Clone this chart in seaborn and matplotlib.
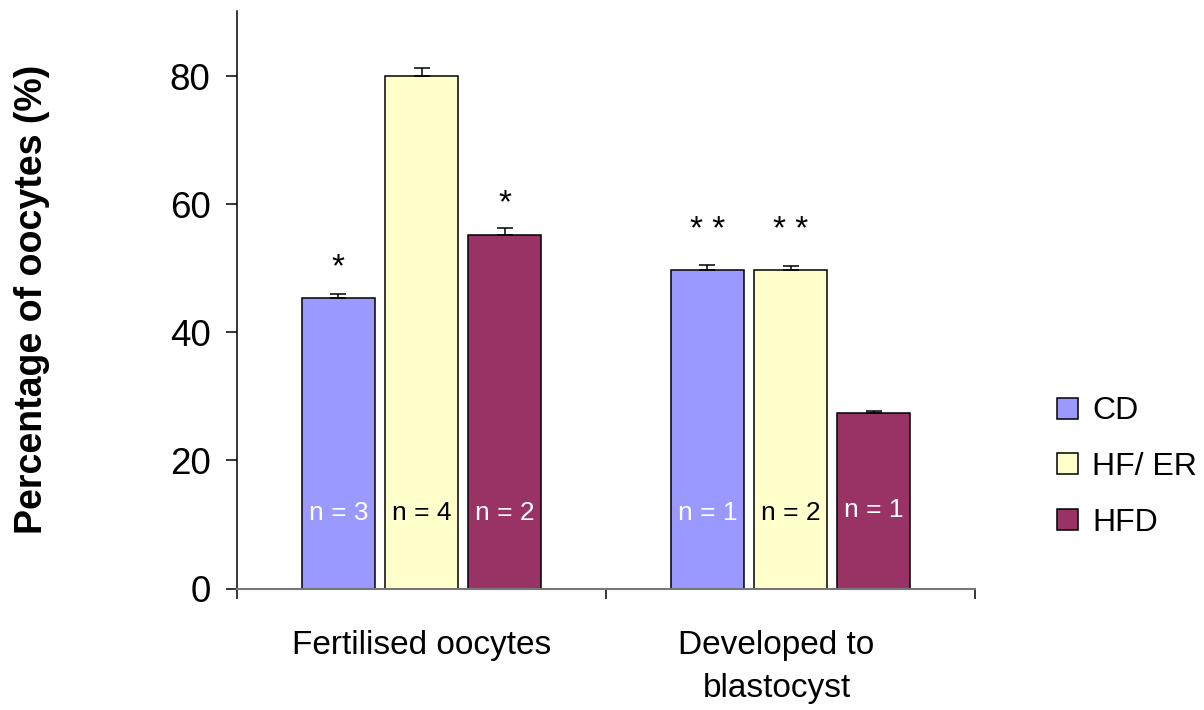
import matplotlib
matplotlib.use("Agg")
import matplotlib.pyplot as plt
import matplotlib.transforms as mtransforms
from matplotlib.ticker import FixedLocator
from matplotlib.container import BarContainer
import seaborn as sns
import pandas as pd

# ---- data ----
categories = ["Fertilised oocytes", "Developed to\nblastocyst"]
diets = ["CD", "HF/ ER", "HFD"]
cd_values = [45.3, 49.8]
hfer_values = [80.0, 49.8]
hfd_values = [55.2, 27.4]
cd_err = [0.75, 0.8]
hfer_err = [1.3, 0.55]
hfd_err = [1.05, 0.25]
cd_n = ["n = 3", "n = 1"]
hfer_n = ["n = 4", "n = 2"]
hfd_n = ["n = 2", "n = 1"]
cd_sig = ["*", "* *"]
hfer_sig = ["", "* *"]
hfd_sig = ["*", ""]
cd_sig_y = [48.7, 54.6]
hfer_sig_y = [None, 54.6]
hfd_sig_y = [58.8, None]
yticks = [0, 20, 40, 60, 80]
ylabel = "Percentage of oocytes (%)"

colors = ["#9999FF", "#FFFFCC", "#993366"]
n_text_colors = ["white", "black", "white"]

values = [cd_values, hfer_values, hfd_values]
errs = [cd_err, hfer_err, hfd_err]
ns = [cd_n, hfer_n, hfd_n]
sigs = [cd_sig, hfer_sig, hfd_sig]
sig_ys = [cd_sig_y, hfer_sig_y, hfd_sig_y]

rows = []
for d, vals in zip(diets, values):
    for c, v in zip(categories, vals):
        rows.append({"category": c, "diet": d, "value": v})
df = pd.DataFrame(rows)

sns.set_style("white")
plt.rcParams["font.family"] = ["Liberation Sans", "DejaVu Sans"]
plt.rcParams["text.color"] = "black"
plt.rcParams["axes.labelcolor"] = "black"
plt.rcParams["xtick.color"] = "black"
plt.rcParams["ytick.color"] = "black"

fig = plt.figure(figsize=(12.04, 7.10), dpi=100)
ax = fig.add_axes([237 / 1204, 1 - 588.5 / 710, (975 - 237) / 1204, (588.5 - 11) / 710])

sns.barplot(data=df, x="category", y="value", hue="diet", order=categories,
            hue_order=diets, palette=colors, width=0.675, gap=0.12,
            edgecolor="black", linewidth=1.1, errorbar=None, ax=ax, saturation=1)

handles, labels = ax.get_legend_handles_labels()
if ax.get_legend() is not None:
    ax.get_legend().remove()

bar_conts = [c for c in ax.containers if isinstance(c, BarContainer)]
for i, cont in enumerate(bar_conts):
    for j, p in enumerate(cont.patches):
        cx = p.get_x() + p.get_width() / 2
        h = p.get_height()
        ax.errorbar(cx, h, yerr=[[0], [errs[i][j]]], fmt="none", ecolor="black",
                    elinewidth=1.1, capsize=5.5, capthick=1.1, zorder=3)
        ny = 10.7 if not (i == 2 and j == 1) else 11.2
        ax.text(cx, ny, ns[i][j], ha="center", va="baseline", fontsize=19,
                color=n_text_colors[i], zorder=4)
        if sigs[i][j]:
            ax.text(cx, sig_ys[i][j], sigs[i][j], ha="center", va="baseline",
                    fontsize=24, color="black")

ax.set_ylim(0, 90.2)
ax.set_xlim(-0.5, 1.5)
ax.set_yticks(yticks)
ax.set_yticklabels([str(t) for t in yticks], fontsize=26.5)
ax.set_xlabel("")
ax.set_ylabel(ylabel, fontsize=27, fontweight="bold")
ax.yaxis.set_label_coords(-0.253, 0.5)

ax.set_xticks([0, 1])
ax.set_xticklabels(categories, fontsize=24, linespacing=1.5)
ax.xaxis.set_minor_locator(FixedLocator([-0.5, 0.5, 1.5]))
ax.tick_params(axis="x", which="major", length=0, pad=30)
ax.tick_params(axis="x", which="minor", length=7.5, width=1.1, color="black", direction="out", bottom=True)
ax.tick_params(axis="y", which="major", length=8, width=1.1, color="black", direction="out", pad=11, left=True)

lbl = ax.get_xticklabels()[1]
lbl.set_transform(lbl.get_transform() + mtransforms.ScaledTranslation(-0.14, 0, fig.dpi_scale_trans))

for s in ["top", "right"]:
    ax.spines[s].set_visible(False)
ax.spines["left"].set_color("black")
ax.spines["left"].set_linewidth(1.1)
ax.spines["bottom"].set_color("#777777")
ax.spines["bottom"].set_linewidth(1.5)

fig.legend(handles, labels, loc="center left", bbox_to_anchor=(1057 / 1204, 1 - 467 / 710),
           frameon=False, fontsize=23, handlelength=0.65, handleheight=0.65,
           handletextpad=0.45, labelspacing=0.8, borderpad=0, borderaxespad=0)

fig.savefig("out.png", dpi=100)
